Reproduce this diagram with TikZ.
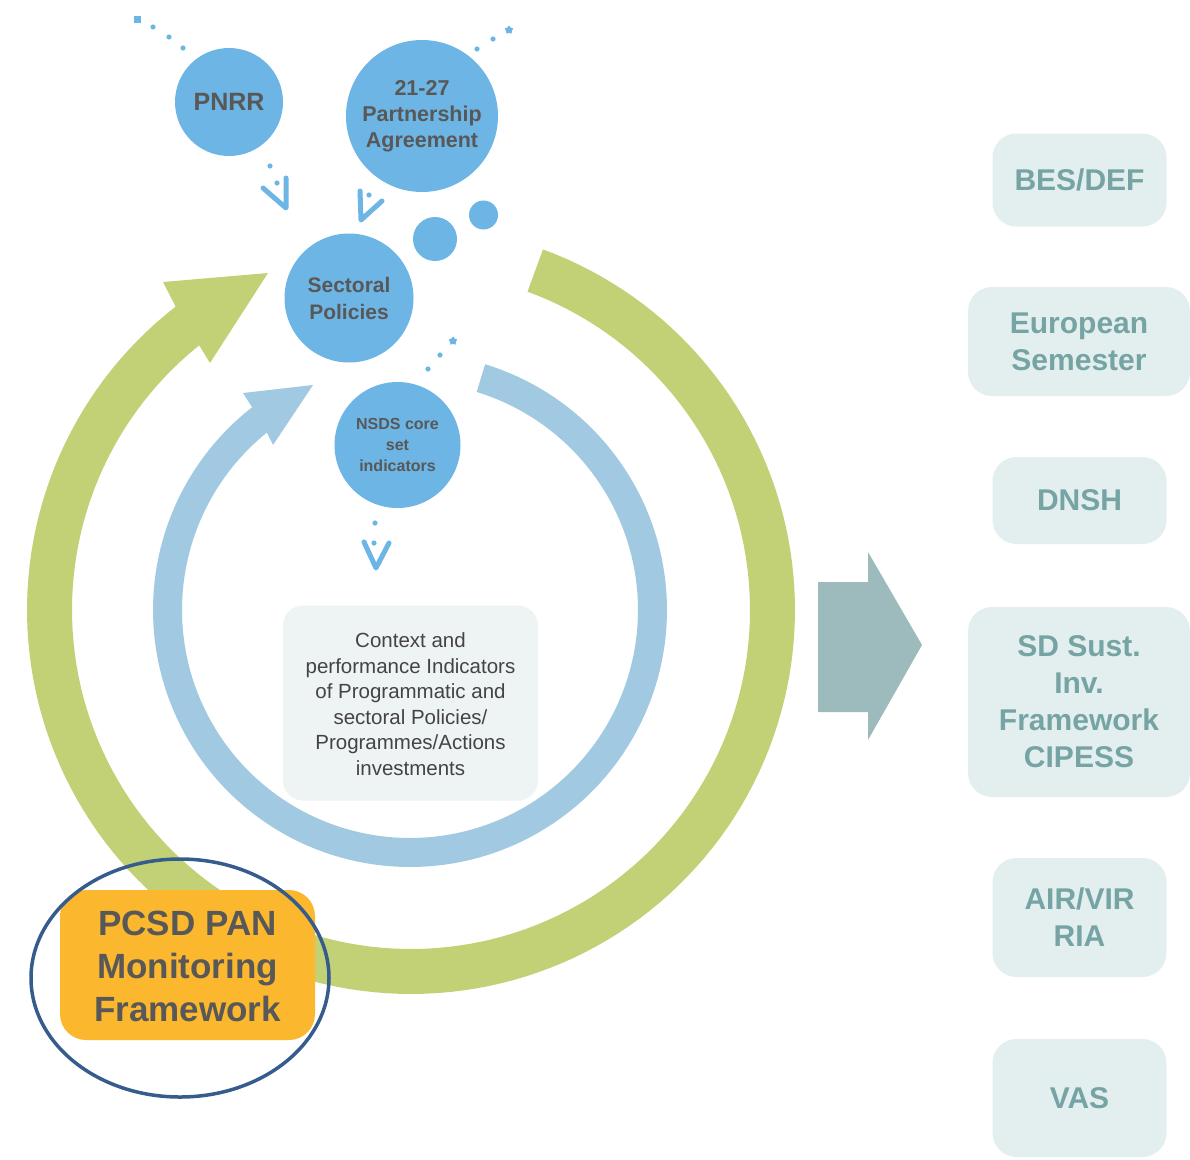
\documentclass[tikz,border=0pt]{standalone}
\usepackage{fontspec}
\setmainfont{Liberation Sans}
\usetikzlibrary{shapes.geometric}
\definecolor{ringgreen}{RGB}{195,209,118}
\definecolor{ringblue}{RGB}{161,201,225}
\definecolor{bubble}{RGB}{109,181,229}
\definecolor{bubbletext}{RGB}{88,88,88}
\definecolor{boxfill}{RGB}{227,239,239}
\definecolor{boxtext}{RGB}{118,163,163}
\definecolor{ctxfill}{RGB}{238,243,243}
\definecolor{ctxtext}{RGB}{68,68,68}
\definecolor{bigarrow}{RGB}{157,187,189}
\definecolor{pcsdfill}{RGB}{251,183,45}
\definecolor{navy}{RGB}{53,92,140}
\tikzset{
  bubblenode/.style={circle, fill=bubble, text=bubbletext, font=\bfseries, align=center, inner sep=0pt},
  sidebox/.style={rounded corners=24pt, fill=boxfill, text=boxtext, align=center, inner sep=0pt,
    font=\fontsize{30}{37}\selectfont\bfseries},
  dotmark/.style={fill=bubble},
  chev/.style={draw=bubble, line width=5pt, line cap=round, line join=round},
}
\begin{document}
\begin{tikzpicture}[x=1pt,y=-1pt]
\useasboundingbox (0,0) rectangle (1190,1159);
% green ring with arrowhead
\fill[ringgreen] plot[domain=69.9:-232.2,samples=160] ({411+384*cos(\x)},{610-384*sin(\x)})
  -- (163,282) -- (268,273) -- (210,363) -- (199,345)
  -- plot[domain=-231.3:69.9,samples=160] ({411+339*cos(\x)},{610-339*sin(\x)}) -- cycle;
% blue ring with arrowhead
\fill[ringblue] plot[domain=73:-232.1,samples=160] ({410+257*cos(\x)},{610-257*sin(\x)})
  -- (243,393) -- (313,385) -- (273,445) -- (267,433)
  -- plot[domain=-231.1:73,samples=160] ({410+228*cos(\x)},{610-228*sin(\x)}) -- cycle;
% bubbles
\node[bubblenode, minimum size=108pt, font=\fontsize{25}{30}\selectfont\bfseries] (pnrr) at (229,102) {PNRR};
\node[bubblenode, minimum size=152pt, font=\fontsize{21.5}{26}\selectfont\bfseries] (pa) at (422,116) {21-27\\Partnership\\Agreement};
\node[bubblenode, minimum size=129pt, font=\fontsize{21}{27}\selectfont\bfseries] (sect) at (349,298) {Sectoral\\Policies};
\node[bubblenode, minimum size=126pt, font=\fontsize{16}{21}\selectfont\bfseries] (nsds) at (397.5,445) {NSDS core\\set\\indicators};
\node[circle, fill=bubble, minimum size=44pt, inner sep=0pt] (b1) at (435,239) {};
\node[circle, fill=bubble, minimum size=29pt, inner sep=0pt] (b2) at (483.5,215) {};
% dotted trails
\fill[dotmark] (133.5,15.5) rectangle (140.5,22.5);
\fill[dotmark] (153,27) circle (2.6) (169,37) circle (2.6) (183,48) circle (2.6);
\fill[dotmark] (477,49) circle (2.6) (493,39) circle (2.6);
\node[star, star points=5, fill=bubble, minimum size=9pt, inner sep=0pt] (s1) at (509,30) {};
\fill[dotmark] (428,369) circle (2.6) (440,355) circle (2.6);
\node[star, star points=5, fill=bubble, minimum size=9pt, inner sep=0pt] (s2) at (453,341) {};
% chevrons
\fill[dotmark] (270,166) circle (2.6) (277,183) circle (2.6);
\draw[chev] (263,188) -- (286,208) -- (286,178);
\fill[dotmark] (369,195) circle (2.6);
\draw[chev] (360,191) -- (361,220) -- (382,201);
\fill[dotmark] (375,523) circle (2.6) (374,543) circle (2.6);
\draw[chev] (364,542) -- (376,568) -- (389,543);
% context box
\node[rounded corners=20pt, fill=ctxfill, minimum width=255pt, minimum height=195pt, inner sep=0pt] (ctx) at (410.5,703) {};
\node[text=ctxtext, align=center, font=\fontsize{20.5}{25.5}\selectfont] (ctxt) at (410.5,704) {Context and\\performance Indicators\\of Programmatic and\\sectoral Policies/\\Programmes/Actions\\investments};
% big arrow
\fill[bigarrow] (818,582) -- (868,582) -- (868,552) -- (922,645) -- (868,740) -- (868,712) -- (818,712) -- cycle;
% side boxes
\node[sidebox, minimum width=174pt, minimum height=93pt] (bes) at (1079.5,180) {BES/DEF};
\node[sidebox, minimum width=222pt, minimum height=109pt] (eur) at (1079,341.5) {European\\Semester};
\node[sidebox, minimum width=174pt, minimum height=87pt] (dnsh) at (1079.5,500.5) {DNSH};
\node[sidebox, minimum width=222pt, minimum height=190pt] (sd) at (1079,702) {SD Sust.\\Inv.\\Framework\\CIPESS};
\node[sidebox, minimum width=174pt, minimum height=119pt] (air) at (1079.5,917.5) {AIR/VIR\\RIA};
\node[sidebox, minimum width=174pt, minimum height=118pt] (vas) at (1079.5,1098) {VAS};
% PCSD
\node[rounded corners=26pt, fill=pcsdfill, minimum width=255pt, minimum height=150pt, inner sep=0pt] (pcsdbox) at (187.5,965) {};
\node[text=bubbletext, align=center, font=\fontsize{35}{43}\selectfont\bfseries] (pcsd) at (187.5,966) {PCSD PAN\\Monitoring\\Framework};
\draw[navy, line width=3.5pt] (180,978) ellipse [x radius=149, y radius=119];
\end{tikzpicture}
\end{document}
